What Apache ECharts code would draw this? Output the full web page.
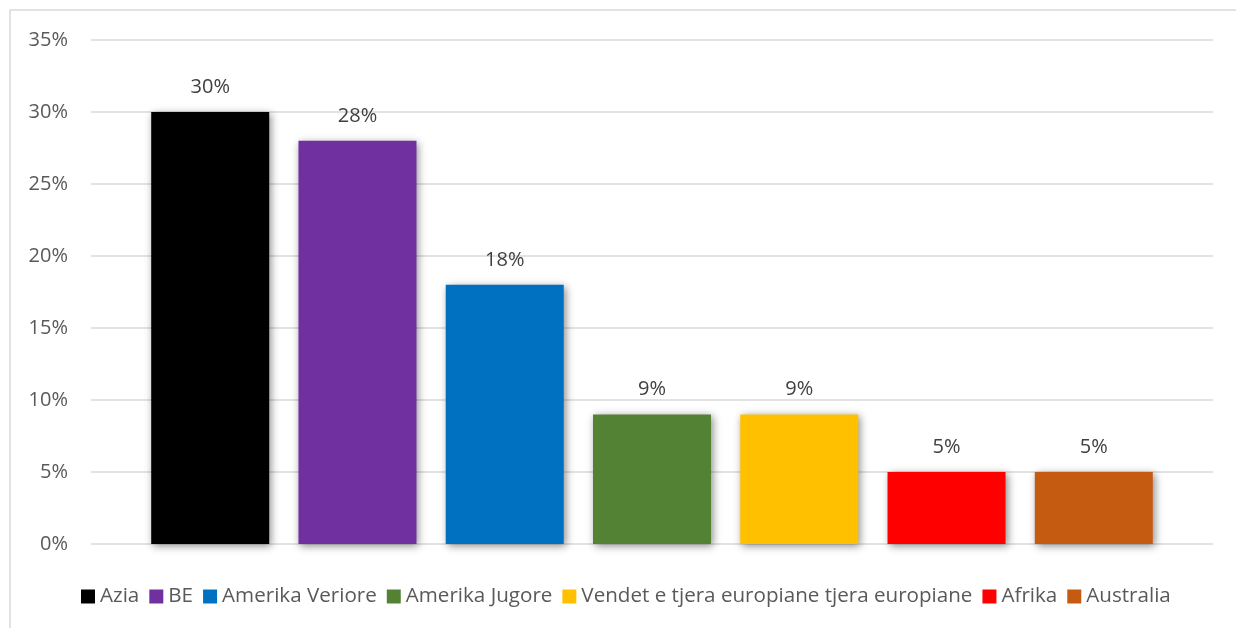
<!DOCTYPE html>
<html>
<head>
<meta charset="utf-8">
<title>Chart</title>
<script src="https://cdn.jsdelivr.net/npm/echarts@6/dist/echarts.min.js"></script>
<style>
    html, body { margin: 0; padding: 0; background: #fff; overflow: hidden; }
    #wrap { position: relative; width: 1236px; height: 628px; }
    #frame { position: absolute; left: 9px; top: 9px; width: 1400px; height: 800px; border: 2px solid #e2e2e2; box-sizing: border-box; }
    #main { position: absolute; left: 0; top: 0; width: 1236px; height: 628px; }
</style>
</head>
<body>
<div id="wrap">
    <div id="frame"></div>
    <div id="main"></div>
</div>
<script>
const names = ['Azia', 'BE', 'Amerika Veriore', 'Amerika Jugore', 'Vendet e tjera europiane tjera europiane', 'Afrika', 'Australia'];
const values = [30, 28, 18, 9, 9, 5, 5];
const colors = ['#000000', '#7030A0', '#0070C0', '#548235', '#FFC000', '#FF0000', '#C55A11'];
const yTicks = { min: 0, max: 35, step: 5 };

const font = '"Open Sans", "Noto Sans", sans-serif';

let chart = echarts.init(document.getElementById('main'));

let series = names.map((name, i) => {
    return {
        type: 'bar',
        name: name,
        data: [values[i]],
        barWidth: 118,
        barGap: '24.8%',
        itemStyle: {
            color: colors[i],
            shadowBlur: 8,
            shadowColor: 'rgba(0,0,0,0.45)',
            shadowOffsetX: 2,
            shadowOffsetY: 2
        },
        label: {
            show: true,
            position: 'top',
            distance: 15,
            formatter: '{c}%',
            color: '#404040',
            fontSize: 20,
            fontFamily: font
        }
    };
});

let option = {
    animation: false,
    color: colors,
    grid: {
        left: 91,
        right: 23,
        top: 40,
        bottom: 84
    },
    legend: {
        bottom: 16,
        left: 76,
        icon: 'rect',
        itemWidth: 14,
        itemHeight: 14,
        itemGap: 10,
        textStyle: {
            color: '#595959',
            fontSize: 20.6,
            fontFamily: font
        },
        data: names
    },
    xAxis: {
        type: 'category',
        data: [''],
        axisLine: { show: false },
        axisTick: { show: false },
        axisLabel: { show: false }
    },
    yAxis: {
        type: 'value',
        min: yTicks.min,
        max: yTicks.max,
        interval: yTicks.step,
        axisLine: { show: false },
        axisTick: { show: false },
        splitLine: {
            lineStyle: { color: '#d9d9d9', width: 1.5 }
        },
        axisLabel: {
            margin: 23,
            color: '#595959',
            fontSize: 20,
            fontFamily: font,
            formatter: '{value}%'
        }
    },
    series: series
};

chart.setOption(option);
</script>
</body>
</html>
